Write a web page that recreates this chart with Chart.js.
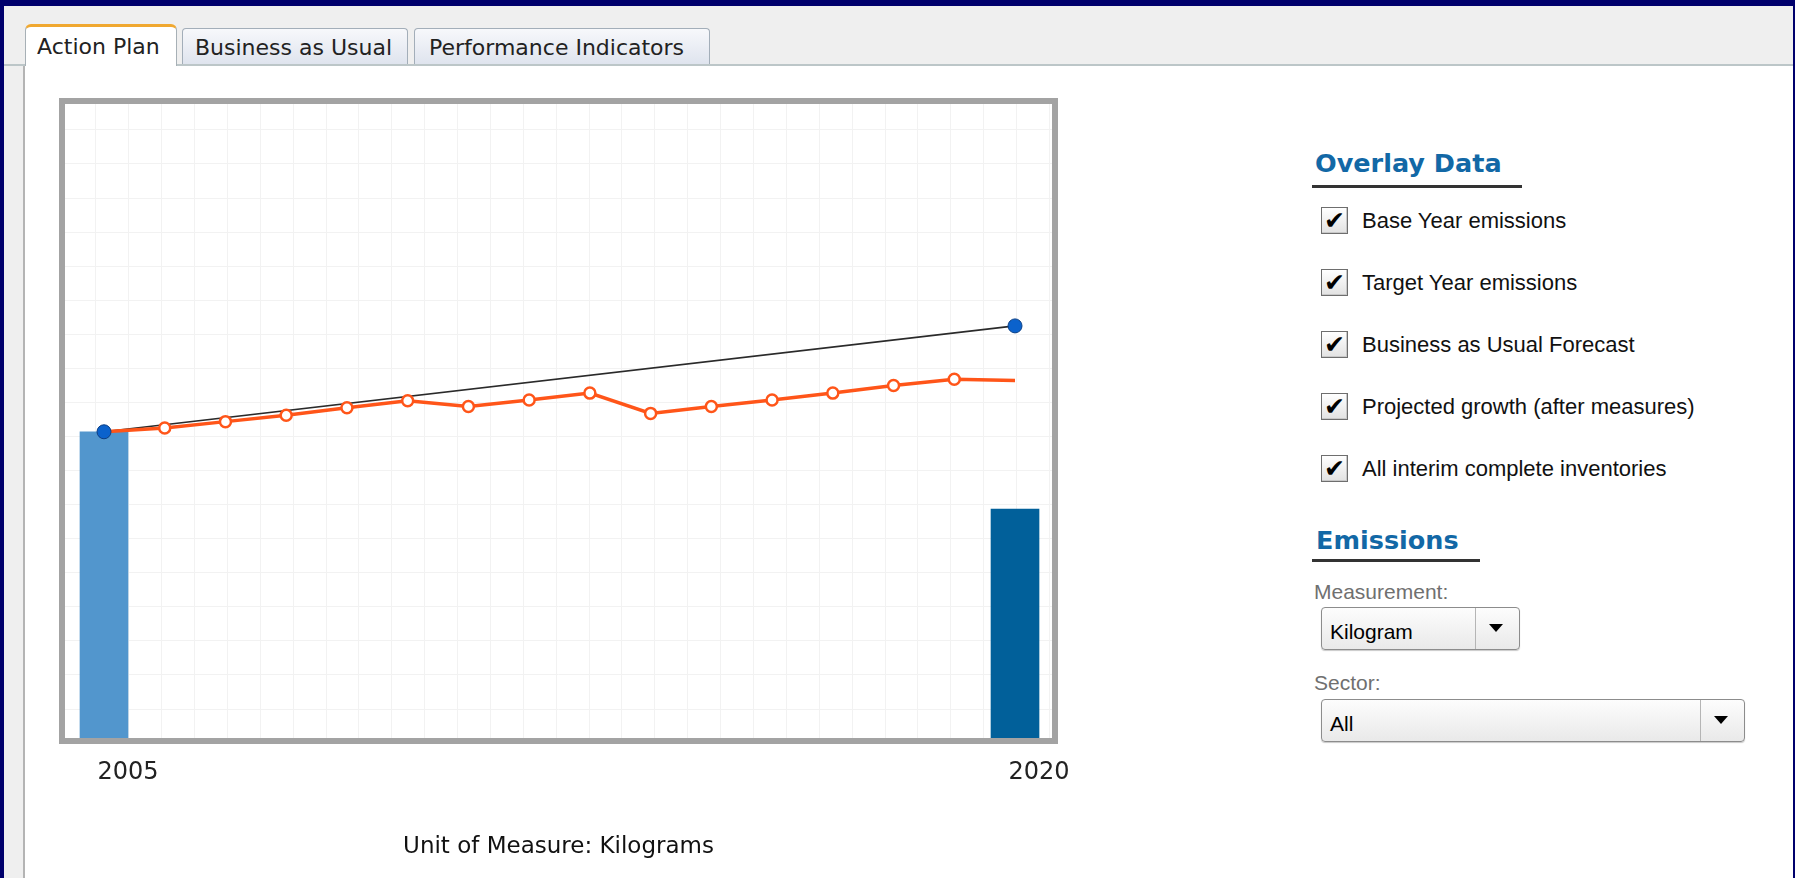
<!doctype html>
<html lang="en">
<head>
  <meta charset="utf-8">
  <title>Action Plan</title>
  <script src="https://cdn.jsdelivr.net/npm/chart.js"></script>
  <style>
    html, body { margin: 0; padding: 0; }
    body { width: 1795px; height: 878px; background: #00006c; position: relative; overflow: hidden; }
    .abs { position: absolute; }
    #panel { left: 4px; top: 6px; width: 1789px; height: 872px; background: #fff; }
    #tabbar { left: 4px; top: 6px; width: 1789px; height: 58px; background: #efefef; border-bottom: 2px solid #bcc6c8; }
    #leftstrip { left: 4px; top: 66px; width: 19px; height: 812px; background: #efefef; border-right: 2px solid #b4b4b4; }
    .tab { font-family: "DejaVu Sans", sans-serif; font-size: 22px; line-height: 22px; color: #222; box-sizing: border-box; white-space: nowrap; }
    .tab.on { background: #fff; border: 1px solid #a7b0b6; border-top: 3px solid #f0a830; border-bottom: none; border-radius: 6px 6px 0 0; }
    .tab.off { background: linear-gradient(#f7f8fb, #dfe4ee); border: 1px solid #a3aeb9; border-bottom: none; border-radius: 4px 4px 0 0; }
    .head { font-family: "DejaVu Sans", sans-serif; font-weight: bold; font-size: 25.5px; line-height: 25.5px; color: #1268a6; white-space: nowrap; }
    .rule { height: 3px; background: #333; }
    .lbl { font-family: "Liberation Sans", Arial, sans-serif; font-size: 22px; line-height: 22px; color: #111; white-space: nowrap; }
    .grey { font-family: "Liberation Sans", Arial, sans-serif; font-size: 21px; line-height: 21px; color: #707070; white-space: nowrap; }
    .box { width: 27px; height: 27px; box-sizing: border-box; border: 1px solid #6e6e6e; background: linear-gradient(#ffffff, #e2e2e2);
           box-shadow: inset -1px -1px 0 #c8c8c8; font-family: "DejaVu Sans", sans-serif; font-size: 25px; line-height: 26px; text-align: center; color: #000; }
    .drop { box-sizing: border-box; border: 1px solid #8c8c8c; border-radius: 4px; background: linear-gradient(#fdfdfd, #e9e9e9);
            box-shadow: 0 1px 1px #c9c9c9; }
    .drop .txt { position: absolute; font-family: "Liberation Sans", Arial, sans-serif; font-size: 21px; line-height: 21px; color: #000; }
    .drop .split { position: absolute; top: 0; bottom: 0; width: 1px; background: #b5b5b5; }
    .drop .arrow { position: absolute; width: 0; height: 0; border-left: 7px solid transparent; border-right: 7px solid transparent; border-top: 8px solid #000; }
    #chartbox { left: 0; top: 0; width: 1100px; height: 878px; }
  </style>
</head>
<body>

<div id="panel" class="abs"></div>
<div id="tabbar" class="abs"></div>
<div id="leftstrip" class="abs"></div>

<div class="abs tab on" style="left:25px; top:24px; width:152px; height:42px; padding:9px 0 0 11px;">Action Plan</div>
<div class="abs tab off" style="left:182px; top:28px; width:226px; height:36px; padding:8px 0 0 12px;">Business as Usual</div>
<div class="abs tab off" style="left:414px; top:28px; width:296px; height:36px; padding:8px 0 0 14px;">Performance Indicators</div>

<!-- right side controls -->
<div class="abs head" style="left:1315px; top:151px;">Overlay Data</div>
<div class="abs rule" style="left:1312px; top:185px; width:210px;"></div>

<div class="abs box" style="left:1321px; top:207px;">✔</div>
<div class="abs lbl" style="left:1362px; top:210px;">Base Year emissions</div>
<div class="abs box" style="left:1321px; top:269px;">✔</div>
<div class="abs lbl" style="left:1362px; top:272px;">Target Year emissions</div>
<div class="abs box" style="left:1321px; top:331px;">✔</div>
<div class="abs lbl" style="left:1362px; top:334px;">Business as Usual Forecast</div>
<div class="abs box" style="left:1321px; top:393px;">✔</div>
<div class="abs lbl" style="left:1362px; top:396px;">Projected growth (after measures)</div>
<div class="abs box" style="left:1321px; top:455px;">✔</div>
<div class="abs lbl" style="left:1362px; top:458px;">All interim complete inventories</div>

<div class="abs head" style="left:1316px; top:528px;">Emissions</div>
<div class="abs rule" style="left:1312px; top:559px; width:168px;"></div>

<div class="abs grey" style="left:1314px; top:581px;">Measurement:</div>
<div class="abs drop" style="left:1321px; top:607px; width:199px; height:43px;">
  <div class="txt" style="left:8px; top:13px;">Kilogram</div>
  <div class="split" style="left:153px;"></div>
  <div class="arrow" style="left:167px; top:16px;"></div>
</div>

<div class="abs grey" style="left:1314px; top:672px;">Sector:</div>
<div class="abs drop" style="left:1321px; top:699px; width:424px; height:43px;">
  <div class="txt" style="left:8px; top:13px;">All</div>
  <div class="split" style="left:378px;"></div>
  <div class="arrow" style="left:392px; top:16px;"></div>
</div>

<div id="chartbox" class="abs"><canvas id="myChart"></canvas></div>

<script>
  // years shown on the axis
  const tickYears = [2005, 2020];

  // projected growth (after measures), one value per year
  const years = [2005, 2006, 2007, 2008, 2009, 2010, 2011, 2012, 2013, 2014, 2015, 2016, 2017, 2018, 2019, 2020];
  const projected = [48.3, 48.9, 49.9, 50.9, 52.1, 53.2, 52.3, 53.3, 54.4, 51.2, 52.3, 53.3, 54.4, 55.6, 56.6, 56.4];

  // business as usual forecast
  const bauYears = [2005, 2020];
  const bauForecast = [48.3, 65.0];

  // base year / target year emissions
  const barYears = [2005, 2020];
  const barValues = [48.3, 36.1];

  function toPoints(xs, ys) {
    return xs.map(function (x, i) { return {x: x, y: ys[i]}; });
  }

  // grey frame around the plot area
  const framePlugin = {
    id: 'frame',
    afterDraw: function (chart) {
      const ctx = chart.ctx, a = chart.chartArea;
      ctx.save();
      ctx.strokeStyle = '#a3a3a3';
      ctx.lineWidth = 6;
      ctx.strokeRect(a.left - 3, a.top - 3, a.right - a.left + 6, a.bottom - a.top + 6);
      ctx.restore();
    }
  };

  function gridTicks(n) {
    return function (scale) {
      const t = [];
      for (let i = 0; i <= n; i++) t.push({value: i});
      scale.ticks = t;
    };
  }

  var mainConfig = {
    type: 'bar',
    data: {
      datasets: [{
        type: 'line',
        label: 'All interim complete inventories',
        data: toPoints(bauYears, bauForecast),
        showLine: false,
        pointRadius: 7,
        pointBackgroundColor: '#0b62cc',
        pointBorderColor: '#0a3f86',
        pointBorderWidth: 1,
        xAxisID: 'x', yAxisID: 'y',
        order: 0
      }, {
        type: 'line',
        label: 'Projected growth (after measures)',
        data: toPoints(years, projected),
        borderColor: '#ff5519',
        borderWidth: 3.5,
        pointRadius: function (c) { return c.dataIndex === years.length - 1 ? 0 : 5.5; },
        pointBackgroundColor: '#ffffff',
        pointBorderColor: '#ff5519',
        pointBorderWidth: 2.5,
        tension: 0,
        xAxisID: 'x', yAxisID: 'y',
        order: 1
      }, {
        type: 'line',
        label: 'Business as Usual Forecast',
        data: toPoints(bauYears, bauForecast),
        borderColor: '#2a2a2a',
        borderWidth: 1.6,
        pointRadius: 0,
        xAxisID: 'x', yAxisID: 'y',
        order: 2
      }, {
        type: 'bar',
        label: 'Base / Target Year emissions',
        data: toPoints(barYears, barValues),
        backgroundColor: ['#5296cd', '#01609a'],
        barThickness: 48,
        xAxisID: 'x', yAxisID: 'y',
        order: 3
      }]
    },
    options: {
      responsive: true,
      maintainAspectRatio: false,
      animation: false,
      layout: { padding: { left: 65, top: 104, right: 48, bottom: 0 } },
      plugins: { legend: { display: false }, tooltip: { enabled: false } },
      scales: {
        x: {
          type: 'linear',
          position: 'bottom',
          min: 2004.358,
          max: 2020.609,
          offset: false,
          afterBuildTicks: function (s) { s.ticks = tickYears.map(function (v) { return {value: v}; }); },
          afterFit: function (s) { s.height = 140; },
          grid: { display: false, drawTicks: false },
          border: { display: false },
          ticks: {
            font: { family: 'DejaVu Sans', size: 24 },
            color: '#222',
            labelOffset: 24,
            padding: 20,
            maxRotation: 0,
            autoSkip: false,
            callback: function (v) { return String(v); }
          },
          title: {
            display: true,
            text: 'Unit of Measure: Kilograms',
            font: { family: 'DejaVu Sans', size: 23 },
            color: '#111',
            padding: { top: 0, bottom: 17 }
          }
        },
        y: { type: 'linear', min: 0, max: 100, display: false },
        gx: {
          type: 'linear', axis: 'x', position: 'top',
          min: -0.922, max: 28.06,
          afterBuildTicks: gridTicks(28),
          afterFit: function (s) { s.height = 0; },
          ticks: { display: false },
          grid: { color: '#f2f2f2', drawTicks: false },
          border: { display: false }
        },
        gy: {
          type: 'linear', axis: 'y', position: 'left',
          min: -0.851, max: 17.76,
          afterBuildTicks: gridTicks(17),
          afterFit: function (s) { s.width = 0; },
          ticks: { display: false },
          grid: { color: '#f2f2f2', drawTicks: false },
          border: { display: false }
        }
      }
    },
    plugins: [framePlugin]
  };

  var mainChart = new Chart(document.getElementById('myChart').getContext('2d'), mainConfig);
</script>
</body>
</html>
